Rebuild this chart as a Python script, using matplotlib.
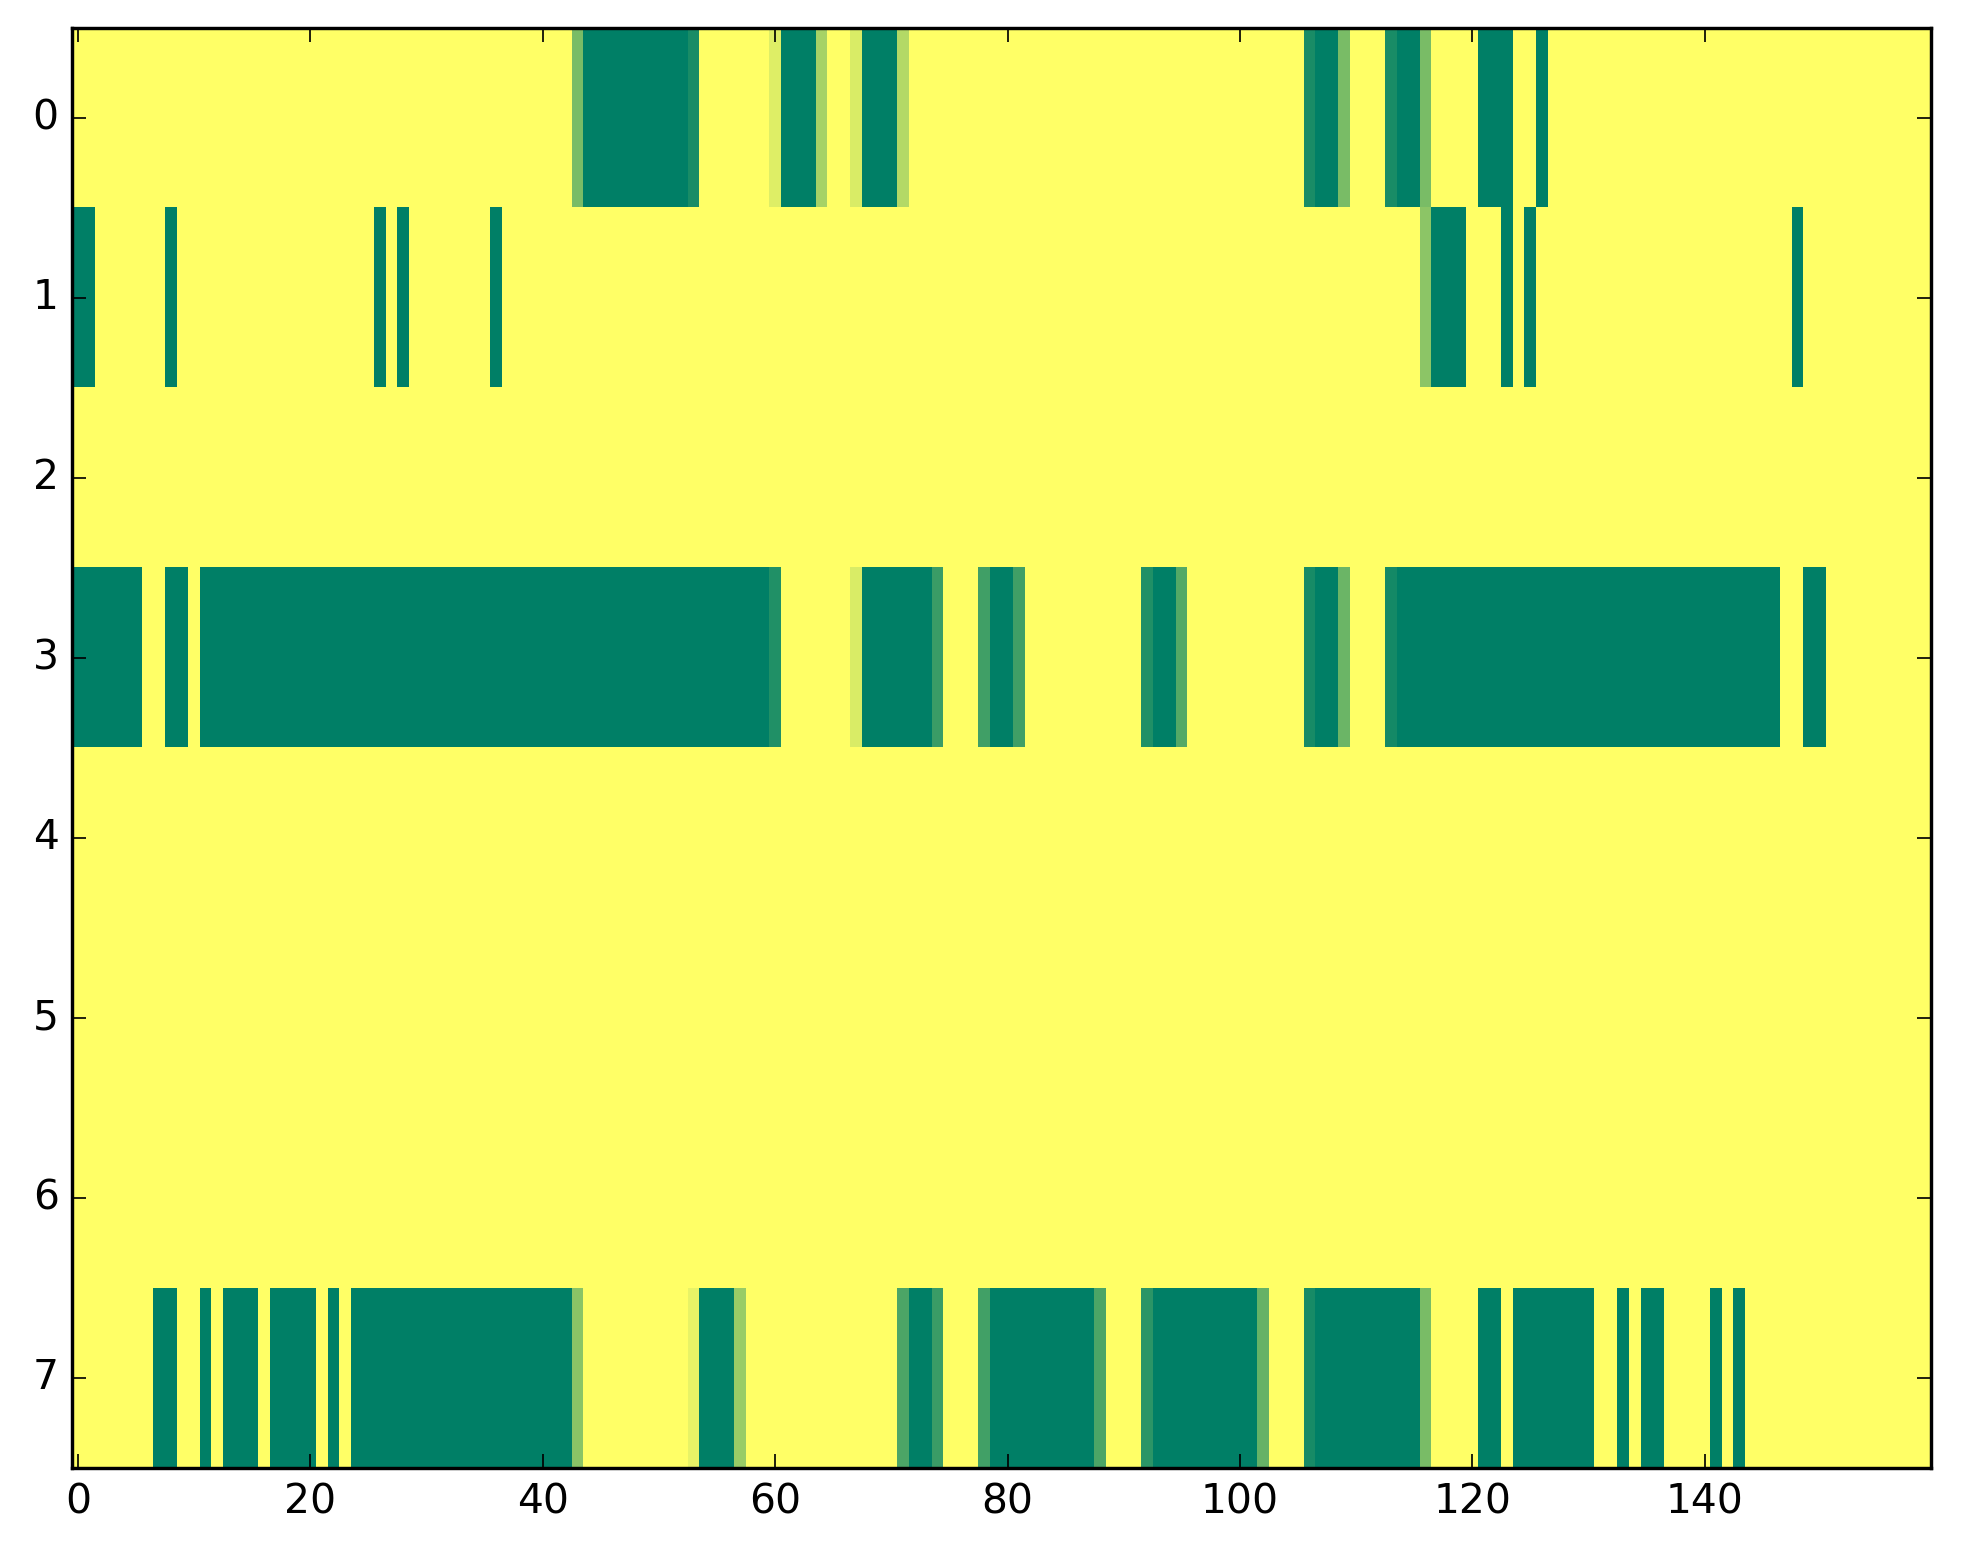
import numpy as np
import matplotlib
matplotlib.use('Agg')
import matplotlib.pyplot as plt

plt.style.use('classic')

n_rows = 8
n_cols = 160

# runs of (first column, last column, value); everything else is 1
row0_runs = [(43, 43, 0.48), (44, 52, 0), (53, 53, 0.1), (60, 60, 0.87),
             (61, 63, 0), (64, 64, 0.65), (67, 67, 0.85), (68, 70, 0),
             (71, 71, 0.7), (106, 106, 0.1), (107, 108, 0), (109, 109, 0.48),
             (113, 113, 0.1), (114, 115, 0), (116, 116, 0.48), (121, 123, 0),
             (126, 126, 0)]
row1_runs = [(0, 1, 0), (8, 8, 0), (26, 26, 0), (28, 28, 0), (36, 36, 0),
             (116, 116, 0.55), (117, 119, 0), (123, 123, 0), (125, 125, 0),
             (148, 148, 0)]
row3_runs = [(0, 5, 0), (8, 9, 0), (11, 59, 0), (60, 60, 0.13), (67, 67, 0.85),
             (68, 73, 0), (74, 74, 0.23), (78, 78, 0.25), (79, 80, 0),
             (81, 81, 0.25), (92, 92, 0.13), (93, 94, 0), (95, 95, 0.33),
             (106, 106, 0.09), (107, 108, 0), (109, 109, 0.42), (113, 113, 0.08),
             (114, 146, 0), (149, 150, 0)]
row7_runs = [(7, 8, 0), (11, 11, 0), (13, 15, 0), (17, 20, 0), (22, 22, 0),
             (24, 42, 0), (43, 43, 0.54), (53, 53, 0.91), (54, 56, 0),
             (57, 57, 0.6), (71, 71, 0.3), (72, 73, 0), (74, 74, 0.23),
             (78, 78, 0.26), (79, 87, 0), (88, 88, 0.3), (92, 92, 0.17),
             (93, 101, 0), (102, 102, 0.4), (106, 106, 0.09), (107, 115, 0),
             (116, 116, 0.48), (121, 122, 0), (124, 130, 0), (133, 133, 0),
             (135, 136, 0), (141, 141, 0), (143, 143, 0)]

runs = {0: row0_runs, 1: row1_runs, 3: row3_runs, 7: row7_runs}

grid = np.ones((n_rows, n_cols))
for r in runs:
    for a, b, v in runs[r]:
        grid[r, a:b + 1] = v

fig = plt.figure(figsize=(1963 / 245., 1564 / 245.), dpi=245)
ax = fig.add_axes([0.0368, 0.0611, 0.947, 0.921])
ax.imshow(grid, cmap='summer', vmin=0, vmax=1, interpolation='nearest',
          aspect='auto')
ax.set_xticks(np.arange(0, 160, 20))
ax.set_yticks(np.arange(0, 8))
ax.set_xlim(-0.5, 159.5)
ax.set_ylim(7.5, -0.5)

plt.savefig('out.png', dpi=245)
